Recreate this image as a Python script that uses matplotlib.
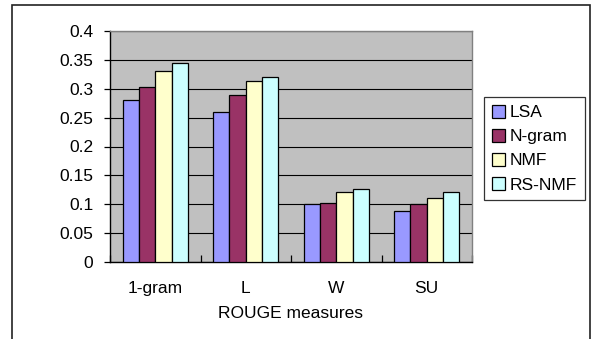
import numpy as np
import matplotlib.pyplot as plt
from matplotlib.patches import Rectangle

categories = ['1-gram', 'L', 'W', 'SU']
series_names = ['LSA', 'N-gram', 'NMF', 'RS-NMF']
lsa = [0.281, 0.259, 0.101, 0.088]
ngram = [0.303, 0.289, 0.103, 0.100]
nmf = [0.331, 0.314, 0.122, 0.110]
rs_nmf = [0.344, 0.320, 0.127, 0.122]
colors = ['#9999FF', '#993366', '#FFFFCC', '#CCFFFF']

plt.rcParams['font.family'] = ['Liberation Sans', 'DejaVu Sans']
fs = 12.5

fig = plt.figure(figsize=(5.91, 3.39), dpi=100, facecolor='white')
W, H = 591, 339

# outer chart frame
fig.patches.append(Rectangle((12 / W, -0.02), (590 - 12) / W, 1.02 - 5 / H,
                             transform=fig.transFigure, fill=False,
                             edgecolor='#222222', linewidth=1.2))

ax = fig.add_axes([110 / W, 1 - 262 / H, (472 - 110) / W, (262 - 31) / H])
ax.set_facecolor('#C0C0C0')

x = np.arange(len(categories))
bw = 0.18
for i, (vals, name) in enumerate(zip([lsa, ngram, nmf, rs_nmf], series_names)):
    ax.bar(x + (i - 1.5) * bw, vals, bw, color=colors[i], edgecolor='black',
           linewidth=0.9, label=name, zorder=3)

ax.set_xlim(-0.5, len(categories) - 0.5)
ax.set_ylim(0, 0.4)
ax.set_yticks(np.arange(0, 0.401, 0.05))
ax.set_yticklabels(['0', '0.05', '0.1', '0.15', '0.2', '0.25', '0.3', '0.35', '0.4'])
ax.yaxis.grid(True, color='black', linewidth=0.8, zorder=1)
ax.set_axisbelow(True)

ax.set_xticks(x)
ax.set_xticklabels(categories)
ax.set_xticks(np.arange(-0.5, len(categories)), minor=True)
ax.tick_params(axis='x', which='major', length=0, pad=14, labelsize=fs)
ax.tick_params(axis='x', which='minor', direction='in', length=5, width=0.9)
ax.tick_params(axis='y', length=4, width=0.9, labelsize=fs, pad=8)

for s in ['top', 'right']:
    ax.spines[s].set_color('#808080')
    ax.spines[s].set_linewidth(1.0)
for s in ['left', 'bottom']:
    ax.spines[s].set_color('black')
    ax.spines[s].set_linewidth(1.0)

ax.set_xlabel('ROUGE measures', fontsize=fs, labelpad=7)

leg = fig.legend(loc='upper left', bbox_to_anchor=(484 / W, 1 - 97 / H),
                 frameon=True, fancybox=False, edgecolor='black',
                 fontsize=fs, handlelength=0.75, handleheight=0.75,
                 handletextpad=0.3, borderpad=0.45, labelspacing=0.5,
                 borderaxespad=0)
leg.get_frame().set_linewidth(0.9)

fig.savefig('out.png', dpi=100, facecolor='white')
